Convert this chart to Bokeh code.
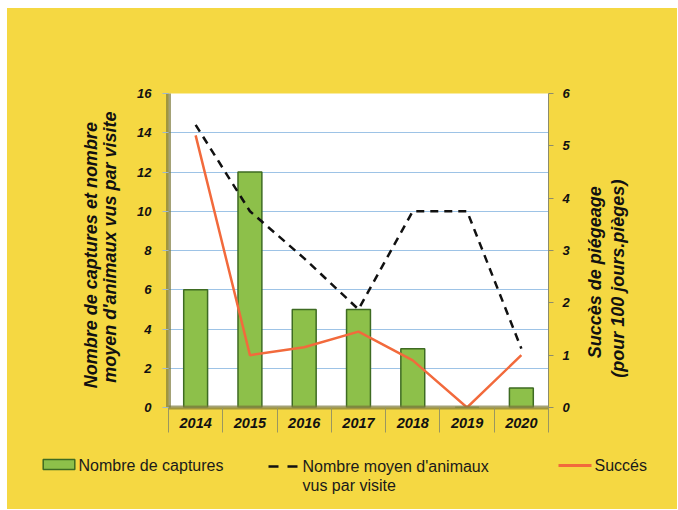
import math
from bokeh.plotting import figure
from bokeh.models import Range1d, LinearAxis, FixedTicker, Spacer
from bokeh.layouts import column, row
from bokeh.core.properties import value
from bokeh.embed import file_html
from bokeh.resources import INLINE

# ---- data ----
years = ["2014", "2015", "2016", "2017", "2018", "2019", "2020"]
captures = [6, 12, 5, 5, 3, 0, 1]
moyen_vus = [14.4, 10, 7.6, 5, 10, 10, 3]
succes = [5.2, 1.0, 1.15, 1.45, 0.9, 0.0, 1.0]
left_ticks = [0, 2, 4, 6, 8, 10, 12, 14, 16]
right_ticks = [0, 1, 2, 3, 4, 5, 6]

left_title = ["Nombre de captures et nombre", "moyen d'animaux vus par visite"]
right_title = ["Succès de piégeage", "(pour 100 jours.pièges)"]
legend_labels = ["Nombre de captures", "Nombre moyen d'animaux", "vus par visite", "Succés"]

YELLOW = "#F5D842"
GREEN = "#8DC04A"
GREEN_DARK = "#3E6B22"
RED = "#F26A3C"
GRID = "#9DC3E6"
OLIVE = "#7D7A3C"
FONT = "Liberation Sans"
INK = "#111111"

xpos = [i + 0.5 for i in range(len(years))]
sep = list(range(len(years) + 1))

W = 670
H_MAIN = 437
H_LEG = 64

p = figure(width=W, height=H_MAIN, output_backend="svg", toolbar_location=None,
           x_range=Range1d(0, len(years)), y_range=Range1d(0, 16),
           min_border_left=161, min_border_right=129, min_border_top=85, min_border_bottom=38)
p.extra_y_ranges = {"succ": Range1d(0, 6)}
p.border_fill_color = YELLOW
p.background_fill_color = "white"
p.outline_line_color = None

# ---- grid ----
p.xgrid.visible = False
p.ygrid.ticker = FixedTicker(ticks=left_ticks)
p.ygrid.grid_line_color = GRID
p.ygrid.grid_line_width = 1.2

# ---- marks ----
bars = p.vbar(x=xpos, top=captures, width=0.44, bottom=0,
              fill_color=GREEN, line_color=GREEN_DARK, line_width=1.5)
red = p.line(x=xpos, y=succes, y_range_name="succ", line_color=RED, line_width=2.5)
dash = p.line(x=xpos, y=moyen_vus, line_color=INK, line_width=2.5, line_dash="8 6")

# ---- bottom axis ----
xa = p.xaxis[0]
xa.ticker = FixedTicker(ticks=xpos, minor_ticks=sep)
xa.major_label_overrides = {x: y for x, y in zip(xpos, years)}
xa.major_tick_line_color = None
xa.major_tick_out = 0
xa.major_tick_in = 0
xa.minor_tick_out = 25
xa.minor_tick_in = 0
xa.minor_tick_line_color = "#9A9660"
xa.minor_tick_line_width = 1
xa.axis_line_color = OLIVE
xa.axis_line_alpha = 0.7
xa.axis_line_width = 4
xa.major_label_standoff = -15
xa.major_label_text_font = FONT
xa.major_label_text_font_style = "bold italic"
xa.major_label_text_font_size = "14.5px"
xa.major_label_text_color = INK

# ---- left axis ----
ya = p.yaxis[0]
ya.ticker = FixedTicker(ticks=left_ticks)
ya.major_tick_out = 6
ya.major_tick_in = 0
ya.major_tick_line_color = "#9DB7CF"
ya.minor_tick_line_color = None
ya.axis_line_color = OLIVE
ya.axis_line_alpha = 0.7
ya.axis_line_width = 5
ya.major_label_standoff = 11
ya.major_label_text_font = FONT
ya.major_label_text_font_style = "bold italic"
ya.major_label_text_font_size = "13px"
ya.major_label_text_color = INK

# ---- right axis ----
ra = LinearAxis(y_range_name="succ", ticker=FixedTicker(ticks=right_ticks))
ra.major_tick_out = 5
ra.major_tick_in = 0
ra.major_tick_line_color = "#8C8C6C"
ra.minor_tick_line_color = None
ra.axis_line_color = "#8C8C6C"
ra.axis_line_width = 1
ra.major_label_standoff = 9
ra.major_label_text_font = FONT
ra.major_label_text_font_style = "bold italic"
ra.major_label_text_font_size = "13px"
ra.major_label_text_color = INK
p.add_layout(ra, "right")

# ---- axis titles (one text line per label-only axis) ----
def title_axis(text, at, range_name, standoff, side):
    ax = LinearAxis(y_range_name=range_name, ticker=FixedTicker(ticks=[at]),
                    major_label_overrides={at: text},
                    major_label_orientation=math.pi / 2,
                    axis_line_color=None, major_tick_line_color=None,
                    minor_tick_line_color=None, major_tick_out=0, major_tick_in=0,
                    major_label_standoff=standoff,
                    major_label_text_font=FONT, major_label_text_font_style="bold italic",
                    major_label_text_font_size="18px", major_label_text_color=INK)
    p.add_layout(ax, side)

title_axis(left_title[1], 8.7, "default", 24, "left")
title_axis(left_title[0], 8.7, "default", -4, "left")
title_axis(right_title[0], 0.94, "succ", 23, "right")
title_axis(right_title[1], 0.57, "succ", 0, "right")

# ---- legend strip ----
lf = figure(width=W, height=H_LEG, output_backend="svg", toolbar_location=None,
            x_range=Range1d(0, W), y_range=Range1d(H_LEG, 0),
            x_axis_type=None, y_axis_type=None, min_border=0)
for fig in (p, lf):
    try:
        fig.frame_align = False
    except Exception:
        pass
lf.background_fill_color = YELLOW
lf.border_fill_color = YELLOW
lf.outline_line_color = None
lf.grid.visible = False

lf.quad(left=[35.7], right=[67.3], top=[14], bottom=[24],
        fill_color=GREEN, line_color=GREEN_DARK, line_width=1.5)
lf.segment(x0=[261], y0=[21], x1=[290], y1=[21], line_color=INK, line_width=2.5, line_dash="10 9")
lf.segment(x0=[551], y0=[20], x1=[584], y1=[20], line_color=RED, line_width=3)
lf.text(x=[71, 295, 295, 587], y=[20, 21, 40, 20], text=legend_labels,
        text_font=value(FONT), text_font_size="16px", text_color="#1A1A1A",
        text_baseline="middle", text_align="left")

inner = column(p, lf, styles={"background-color": YELLOW})
layout = column(Spacer(height=8), row(Spacer(width=7), inner))

open("out.html", "w").write(file_html(layout, INLINE))
